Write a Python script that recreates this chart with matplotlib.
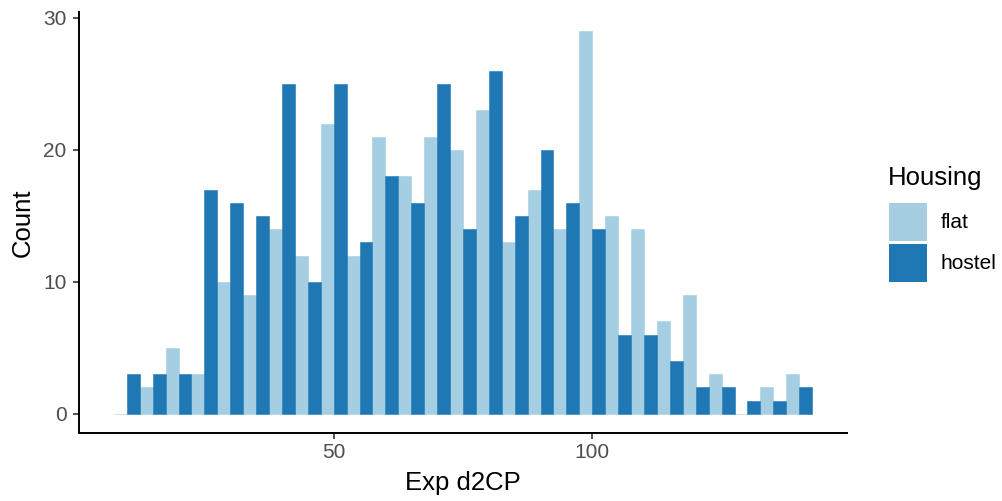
import matplotlib
matplotlib.use("Agg")
import matplotlib.pyplot as plt
from matplotlib.patches import Patch
import numpy as np

plt.rcParams['font.family'] = ['Liberation Sans', 'DejaVu Sans']

# bin centres (binwidth 5) and counts per housing type
bin_centers = np.arange(10, 145, 5)
flat = [0, 2, 5, 3, 10, 9, 14, 12, 22, 12, 21, 18, 21, 20, 23, 13, 17, 14,
        29, 15, 14, 7, 9, 3, 0, 2, 3]
hostel = [3, 3, 3, 17, 16, 15, 25, 10, 25, 13, 18, 16, 25, 14, 26, 15, 20, 16,
          14, 6, 6, 4, 2, 2, 1, 1, 2]
groups = ["flat", "hostel"]
colors = ["#A6CEE3", "#1F78B4"]

binw = 5
fig = plt.figure(figsize=(10.02, 5.01), dpi=100)
ax = fig.add_axes([0.0788, 0.1357, 0.7665, 0.8403])

for i, (vals, c) in enumerate(zip([flat, hostel], colors)):
    x = bin_centers + (i - 0.5) * binw / 2
    ax.bar(x, vals, width=binw / 2, color=c, edgecolor=c, linewidth=0.4)

lo = bin_centers[0] - binw / 2
hi = bin_centers[-1] + binw / 2
pad = (hi - lo) * 0.05
ax.set_xlim(lo - pad, hi + pad)
ymax = max(max(flat), max(hostel))
ax.set_ylim(-ymax * 0.05, ymax * 1.05)

ax.set_xticks([50, 100])
ax.set_yticks([0, 10, 20, 30])
ax.tick_params(axis='both', colors='#333333', labelcolor='#4D4D4D',
               labelsize=15, length=4, width=1.2)
ax.tick_params(axis='y', pad=5)
ax.tick_params(axis='x', pad=3)
for s in ['top', 'right']:
    ax.spines[s].set_visible(False)
for s in ['left', 'bottom']:
    ax.spines[s].set_linewidth(1.4)
    ax.spines[s].set_color('black')

ax.set_xlabel("Exp d2CP", fontsize=18.5, labelpad=7)
ax.set_ylabel("Count", fontsize=18.5, labelpad=6)

# legend title drawn separately so the gap to the keys matches ggplot
fig.text(0.886, 0.631, "Housing", fontsize=18.5, va='baseline', ha='left')
handles = [Patch(facecolor=c, edgecolor='none') for c in colors]
fig.legend(handles, groups, loc='upper left',
           bbox_to_anchor=(0.887, 0.595), frameon=False, fontsize=15,
           handlelength=1.83, handleheight=2.43,
           labelspacing=0.15, handletextpad=0.67,
           borderaxespad=0, borderpad=0)

fig.savefig("out.png", dpi=100)
